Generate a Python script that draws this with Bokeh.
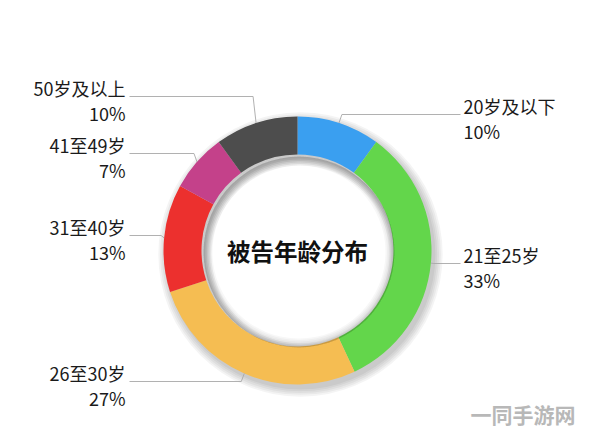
import math
from bokeh.plotting import figure
from bokeh.models import Range1d, ColumnDataSource
from bokeh.core.properties import value
from bokeh.embed import file_html
from bokeh.resources import INLINE

# ---- data ----
categories = ["20岁及以下", "21至25岁", "26至30岁", "31至40岁", "41至49岁", "50岁及以上"]
shares = [10, 33, 27, 13, 7, 10]
pct_labels = ["10%", "33%", "27%", "13%", "7%", "10%"]
colors = ["#3A9FF0", "#63D64B", "#F5BD52", "#EC302E", "#C4418A", "#4D4D4D"]
title_text = "被告年龄分布"
watermark = "一同手游网"

# ---- layout (picture pixel coords; data y = -picture y) ----
W, H = 578, 428
cx, cy = 297, -250
r_out, r_in = 134, 96
label_line_y = [114, 263, 381, 235, 153, 96]
label_side = ["R", "R", "L", "L", "L", "L"]
left_text_x, left_line_x = 125, 129
right_text_x, right_line_x = 463, 460
FONT = "Noto Sans CJK SC"
FS = "18px"

p = figure(width=W, height=H, output_backend="svg", toolbar_location=None,
           x_range=Range1d(0, W), y_range=Range1d(-H, 0),
           min_border=0, outline_line_color=None)
p.axis.visible = False
p.grid.visible = False
p.background_fill_color = "white"
p.border_fill_color = "white"

# soft drop shadow behind the ring
for k in range(5):
    p.annulus(x=cx + 3, y=cy - 4, inner_radius=r_in - 1 - k * 1.5, outer_radius=r_out + 1 + k * 1.8,
              fill_color="black", fill_alpha=0.045, line_color=None)

total = float(sum(shares))
starts, ends, mids = [], [], []
cum = 0.0
for s in shares:
    a0 = math.pi / 2 - 2 * math.pi * cum / total
    cum += s
    a1 = math.pi / 2 - 2 * math.pi * cum / total
    starts.append(a0)
    ends.append(a1)
    mids.append((a0 + a1) / 2)

src = ColumnDataSource(dict(start=starts, end=ends, color=colors))
p.annular_wedge(x=cx, y=cy, inner_radius=r_in, outer_radius=r_out,
                start_angle="start", end_angle="end", direction="clock",
                fill_color="color", line_color=None, source=src)

# inner shadow in the hole
for k in range(6):
    p.annulus(x=cx + 1.5, y=cy - 1.5, inner_radius=r_in - 2 - k * 1.5, outer_radius=r_in - 0.5,
              fill_color="black", fill_alpha=0.03, line_color=None)

# leader lines and labels
for i, cat in enumerate(categories):
    ax = cx + r_out * math.cos(mids[i])
    ay = cy + r_out * math.sin(mids[i])
    ly = -label_line_y[i]
    if label_side[i] == "L":
        xs = [ax, ax - 3, left_line_x]
        tx, align = left_text_x, "right"
    else:
        xs = [ax, ax + 3, right_line_x]
        tx, align = right_text_x, "left"
    ys = [ay, ly, ly]
    p.line(x=xs, y=ys, line_color="#a8a8a8", line_width=0.9)
    p.text(x=[tx], y=[ly + 9], text=[cat], text_align=align, text_baseline="middle",
           text_font=value(FONT), text_font_size=FS, text_color="#1a1a1a")
    p.text(x=[tx], y=[ly - 16], text=[pct_labels[i]], text_align=align, text_baseline="middle",
           text_font=value(FONT), text_font_size=FS, text_color="#1a1a1a")

p.text(x=[cx], y=[cy], text=[title_text], text_align="center", text_baseline="middle",
       text_font=value(FONT), text_font_size="23.5px", text_font_style="bold", text_color="#111111")

p.text(x=[575], y=[-413], text=[watermark], text_align="right", text_baseline="middle",
       text_font=value(FONT), text_font_size="21px", text_font_style="bold", text_color="#b8b8b8")

open("out.html", "w").write(file_html(p, INLINE))
